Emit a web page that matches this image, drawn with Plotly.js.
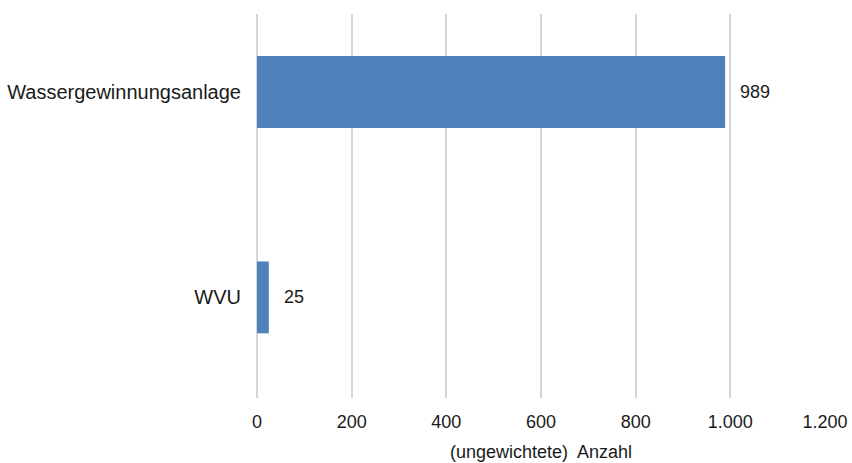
<!DOCTYPE html>
<html><head><meta charset="utf-8">
<script src="https://cdn.plot.ly/plotly-3.0.1.min.js"></script>
<style>html,body{margin:0;padding:0;background:#fff}</style>
</head><body>
<div id="chart" style="width:852px;height:463px"></div>
<script>
const categories = ["WVU", "Wassergewinnungsanlage"];
const values = [25, 989];
const valueLabels = ["25", "989"];
const tickVals = [0, 200, 400, 600, 800, 1000, 1200];
const tickText = ["0", "200", "400", "600", "800", "1.000", "1.200"];
const axisTitle = "(ungewichtete)  Anzahl";

const font = {family: "Liberation Sans, Arial, sans-serif", size: 18, color: "#1a1a1a"};
const catFont = {family: "Liberation Sans, Arial, sans-serif", size: 20, color: "#1a1a1a"};

const trace = {
  type: "bar", orientation: "h",
  x: values, y: categories,
  marker: {color: "#4F81BD"},
  width: 0.35,
  hoverinfo: "none"
};

const annotations = values.map((v, i) => ({
  x: v, y: categories[i], xref: "x", yref: "y",
  text: valueLabels[i], showarrow: false,
  xanchor: "left", xshift: 13, font: font
}));

const layout = {
  width: 852, height: 463,
  margin: {l: 257, r: 27, t: 14, b: 65},
  paper_bgcolor: "#fff", plot_bgcolor: "#fff",
  font: font,
  showlegend: false,
  annotations: annotations,
  xaxis: {
    range: [0, 1200], tickvals: tickVals, ticktext: tickText,
    showgrid: true, gridcolor: "#d6d6d6", gridwidth: 2,
    zeroline: true, zerolinecolor: "#d6d6d6", zerolinewidth: 2,
    showline: false, ticks: "",
    tickfont: font, ticklabelstandoff: 11,
    title: {text: axisTitle, font: font, standoff: 14}
  },
  yaxis: {
    type: "category", range: [-0.49, 1.38],
    showgrid: false, zeroline: false, showline: false, ticks: "",
    tickfont: catFont, ticklabelstandoff: 15
  }
};

Plotly.newPlot("chart", [trace], layout, {staticPlot: true, displayModeBar: false});
</script>
</body></html>
